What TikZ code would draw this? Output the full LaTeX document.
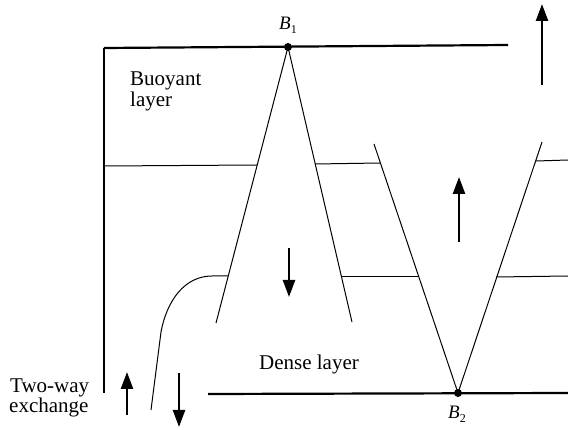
\documentclass[tikz,border=0pt]{standalone}
\usepackage{fontspec}
\setmainfont{Liberation Serif}
\usetikzlibrary{arrows.meta}
\newcommand{\ptlabel}[1]{\textit{B}\raisebox{-4pt}{\fontsize{12}{13}\selectfont #1}}
\begin{document}
\begin{tikzpicture}[x=1pt,y=-1pt,
  wall/.style={line width=2.2pt},
  side/.style={line width=1.6pt},
  thin/.style={line width=1pt},
  flow/.style={line width=2.4pt,-{Triangle[length=17pt,width=12pt]}},
  lbl/.style={font=\fontsize{21}{21}\selectfont,inner sep=0pt},
  pt/.style={font=\fontsize{19}{19}\selectfont,inner sep=0pt}]
\useasboundingbox (0,0) rectangle (568,430);
% coordinates
\coordinate (TL) at (104,48);
\coordinate (TR) at (508,45);
\coordinate (BL) at (104,393);
\coordinate (B1) at (288,47);
\coordinate (CL) at (216,323);
\coordinate (CR) at (352,322);
\coordinate (VL) at (374,144);
\coordinate (VR) at (542,142);
\coordinate (B2) at (458,393);
\coordinate (BotL) at (208,394);
\coordinate (BotR) at (568,393);
% walls
\draw[wall] (TL) -- (TR);
\draw[side] (BL) -- (TL);
\draw[wall] (BotL) -- (BotR);
% plumes
\draw[thin] (B1) -- (CL);
\draw[thin] (B1) -- (CR);
\draw[thin] (VL) -- (B2) -- (VR);
% interfaces upper
\coordinate (U1) at (105,166); \coordinate (U2) at (257,165);
\coordinate (U3) at (315,164); \coordinate (U4) at (380,163);
\coordinate (U5) at (536,161); \coordinate (U6) at (568,160);
\draw[thin] (U1) -- (U2);
\draw[thin] (U3) -- (U4);
\draw[thin] (U5) -- (U6);
% interfaces lower
\coordinate (L0) at (151,410); \coordinate (L1) at (161,332);
\coordinate (L2) at (228,276);
\coordinate (L3) at (342,277); \coordinate (L4) at (419,277);
\coordinate (L5) at (496,277); \coordinate (L6) at (568,276);
\draw[thin] (L0) -- (L1) .. controls (167,300) and (185,276) .. (212,276) -- (L2);
\draw[thin] (L3) -- (L4);
\draw[thin] (L5) -- (L6);
% dots
\fill (B1) circle (4pt);
\fill (B2) circle (4pt);
% arrows
\coordinate (a1s) at (542,85); \coordinate (a1e) at (542,4);
\coordinate (a2s) at (459,242); \coordinate (a2e) at (459,177);
\coordinate (a3s) at (289,248); \coordinate (a3e) at (289,297);
\coordinate (a4s) at (127,415); \coordinate (a4e) at (127,372);
\coordinate (a5s) at (179,373); \coordinate (a5e) at (179,427);
\draw[flow] (a1s) -- (a1e);
\draw[flow] (a2s) -- (a2e);
\draw[flow] (a3s) -- (a3e);
\draw[flow] (a4s) -- (a4e);
\draw[flow] (a5s) -- (a5e);
% labels
\node[pt,anchor=base west] (b1l) at (279,30) {\ptlabel{1}};
\node[pt,anchor=base west] (b2l) at (448,418) {\ptlabel{2}};
\node[lbl,anchor=base west] (buoy1) at (130,86) {Buoyant};
\node[lbl,anchor=base west] (buoy2) at (130,107) {layer};
\node[lbl,anchor=base] (dense) at (309,370) {Dense layer};
\node[lbl,anchor=base west] (two1) at (10,393) {Two-way};
\node[lbl,anchor=base west] (two2) at (9,413) {exchange};
\end{tikzpicture}
\end{document}
